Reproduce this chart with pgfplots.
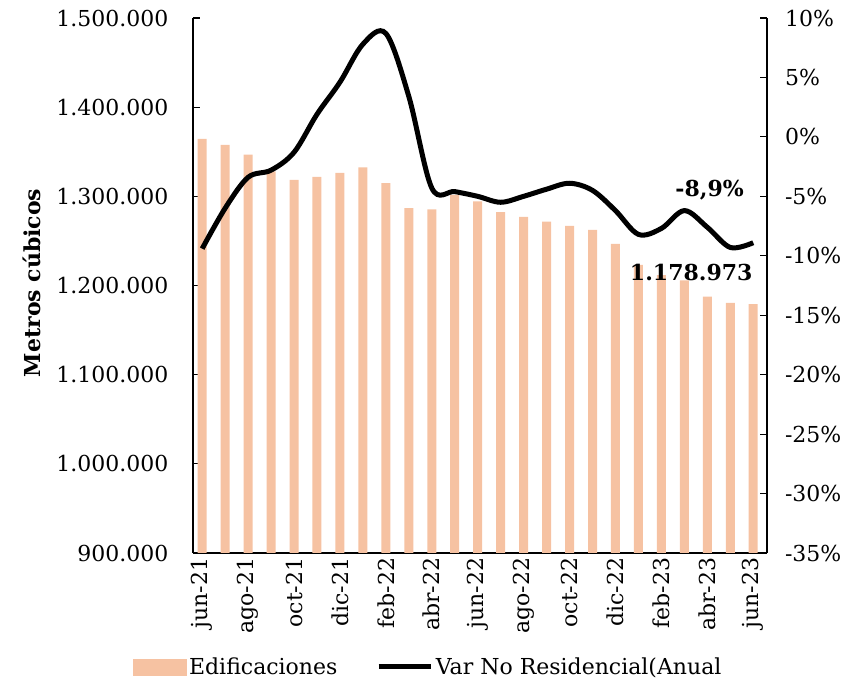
\documentclass[border=0pt]{standalone}
\usepackage{fontspec}
\setmainfont{DejaVu Serif}
\usepackage{pgfplots}
\usepackage{pgfplotstable}
\pgfplotsset{compat=1.18}
\definecolor{barc}{HTML}{F6C2A2}

\pgfplotstableread{
i vol var
0 1364300 -9.4
1 1357600 -6.0
2 1346700 -3.4
3 1328000 -2.8
4 1318400 -1.3
5 1321700 1.9
6 1326200 4.6
7 1332600 7.8
8 1314700 8.7
9 1286700 3.4
10 1285500 -4.3
11 1301600 -4.6
12 1294400 -5.0
13 1282200 -5.5
14 1276900 -5.0
15 1271700 -4.4
16 1266800 -3.9
17 1262300 -4.5
18 1246600 -6.2
19 1223100 -8.2
20 1211600 -7.7
21 1205800 -6.2
22 1187600 -7.6
23 1180500 -9.3
24 1178973 -8.9
}\data

\begin{document}
\begin{tikzpicture}[font=\fontsize{16.5}{20}\selectfont]
\pgfplotsset{
  common/.style={
    scale only axis, width=430.5pt, height=401.25pt,
    xmin=-0.4, xmax=24.6,
    major tick length=5pt,
    tick style={black, line width=0.8pt},
    axis line style={black, line width=1pt},
    /pgf/number format/assume math mode=true,
  }
}
\begin{axis}[common, name=main,
  ymin=900000, ymax=1500000,
  ytick={900000,1000000,...,1500000},
  scaled y ticks=false,
  /pgf/number format/fixed,
  /pgf/number format/1000 sep={.},
  axis y line*=left, axis x line*=bottom,
  yticklabel style={xshift=-15pt},
  xtick={0,2,...,24},
  xticklabels={jun-21,ago-21,oct-21,dic-21,feb-22,abr-22,jun-22,ago-22,oct-22,dic-22,feb-23,abr-23,jun-23},
  xticklabel style={rotate=90, anchor=east},
  x tick style={draw=none},
  extra x ticks={1.5,3.5,...,23.5},
  extra x tick style={xticklabel={}, tick style={draw=black, line width=0.8pt}},
  clip=false,
]
\addplot[ybar, bar width=6.75pt, fill=barc, draw=none] table[x=i, y=vol] {\data};
\node[rotate=90, font=\fontsize{16.5}{20}\selectfont\bfseries] at (rel axis cs:-0.2805,0.505) {Metros cúbicos};
\end{axis}
\begin{axis}[common,
  ymin=-35, ymax=10,
  ytick={-35,-30,...,10},
  axis y line*=right, axis x line=none,
  yticklabel={\pgfmathprintnumber{\tick}\%},
  yticklabel style={anchor=west, xshift=10pt},
  clip=false,
  legend style={at={(0.41,-0.213)}, anchor=center, draw=none, fill=none,
    legend columns=2, /tikz/every even column/.append style={column sep=27pt},
    font=\fontsize{16.5}{20}\selectfont},
]
\addlegendimage{legend image code/.code={\fill[barc] (0pt,-6pt) rectangle (40pt,6pt);}}
\addlegendentry{Edificaciones}
\addplot[black, line width=3.75pt, smooth, tension=0.55,
  legend image code/.code={\draw[black, line width=3.75pt] (0pt,0pt) -- (39pt,0pt);}]
  table[x=i, y=var] {\data};
\addlegendentry{Var No Residencial(Anual}
\node[font=\fontsize{16.5}{20}\selectfont\bfseries] at (axis cs:22.1,-4.46) {-8,9\%};
\node[font=\fontsize{16.5}{20}\selectfont\bfseries] at (axis cs:21.3,-11.44) {1.178.973};
\end{axis}
\pgfresetboundingbox
\path[use as bounding box] ([shift={(-144.75pt,-99pt)}]main.south west) rectangle ([shift={(503.25pt,414.75pt)}]main.south west);
\end{tikzpicture}
\end{document}
